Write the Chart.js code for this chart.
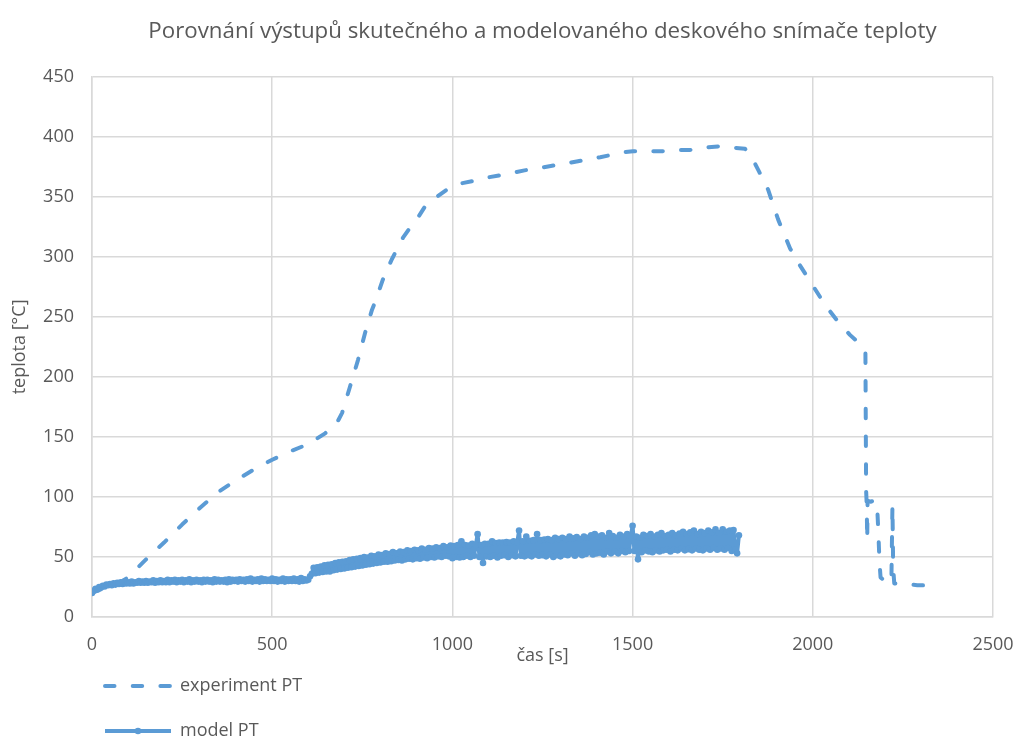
<!DOCTYPE html>
<html><head><meta charset="utf-8">
<script src="https://cdn.jsdelivr.net/npm/chart.js@4.4.0/dist/chart.umd.min.js"></script>
<style>html,body{margin:0;padding:0;background:#fff;overflow:hidden;}#wrap{width:1015px;height:736px;position:relative;}</style>
</head><body><div id="wrap"><canvas id="c" width="1015" height="736"></canvas></div>
<script>
const chartTitle = "Porovnání výstupů skutečného a modelovaného deskového snímače teploty";
const xAxisTitle = "čas [s]";
const yAxisTitle = "teplota [°C]";
const seriesNames = ["experiment PT", "model PT"];
const xTickRange = [0, 2500, 500];
const yTickRange = [0, 450, 50];

const expTime = [0,40,80,100,130,160,200,250,300,350,400,450,500,550,600,647,680,694,716,730,738,758,777,785,807,832,863,882,905,924,957,985,1021,1054,1096,1132,1200,1300,1410,1474,1501,1548,1582,1623,1659,1700,1737,1776,1812,1834,1851,1876,1904,1937,1964,1998,2034,2070,2103,2125,2139,2146,2147,2148,2149,2150,2151,2152,2160,2170,2178,2182,2185,2188,2200,2218,2221,2223,2226,2250,2290,2348];
const expTemp = [20,25,29,33,42,51,62,77,91,104,114,123,131,138,144,153,162,170,192,206,214,237,256,262,281,298,316,324,333,342,350,356,361,363,366,368,372,377,383,387,388,388,388,389,389,391,392,391,390,381,371,356,331,307,293,277,260,246,235,229,222,221,160,105,98,85,64,97,96,97,96,70,46,33,30,29,93,41,28,27.5,26.5,26];

const modelStart = 0;
const modelStep = 5;
const modelTemp = [
 20,22,23.5,23,25,24.5,26,25.5,27,26.5,
 27.5,26.5,28,27,28.5,27.5,29,27.5,29.5,28,
 29,28,29.5,28,29,28.5,30,28.5,29.5,28.5,
 30,28.5,29.5,29,30.5,28.5,30,29,30.5,29,
 30,29,31,29,30.5,29.5,31,29,30.5,29.5,
 31,29,30.5,29.5,31.5,29,30.5,29.5,31,29.5,
 30.5,29,31,29.5,31,29.5,30.5,29,31.5,29.5,
 31,29.5,30.5,29.5,31,29,31.5,29.5,31,30,
 31,29.5,31.5,30,31,29.5,31.5,30,32,29.5,
 31,30,31.5,29.5,32,30,31.5,30,31,30,
 32,30,31.5,29.5,31,30,32,29.5,31.5,30,
 31.5,30,32,30,31.5,29.5,32.5,30,31.5,30.5,
 31,34,36,41,36.5,41.5,37,42,37.5,43,
 38,43.5,38,44,39,45,39.5,45.5,40,46,
 40.5,46.5,41,47.5,41.5,48,42,48.5,42.5,49,
 43,50,43.5,49.5,44,51,44.5,50.5,45,52,
 45.5,51.5,46,53,46,52.5,46.5,54,47,53,
 47.5,54.5,47,54,48,55.5,48.5,55,48,56,
 49,55.5,48.5,57,49.5,56,49,57.5,50,57,
 49.5,58,50.5,57.5,50,59,51,58,50.5,59.5,
 49,59,50,60,49.5,63,50,60,51,59.5,
 50,61,51,60,69,50,60,45,61,50.5,
 61,50,63,51,61.5,49.5,62,51,62,51.5,
 62.5,50,62,51.5,63,50.5,62,72,51,63,
 50.5,67,51.5,63.5,50.5,64,52,69,51,64,
 51.5,64.5,50.5,65,52,64,50,66,51.5,65,
 50.5,66,52,65,51.5,67,53,65.5,51,66.5,
 53,65,51.5,67,52.5,66,54,68,52,69,
 53,67,53.5,68,52,66,54.5,70,53,67.5,
 54.5,66,53,68.5,55,67,54,69,55,67.5,
 76,55,67,48,66,54,68.5,55.5,67.5,54.5,
 69,54,67,55.5,68.5,54.5,70,55.5,67.5,56,
 68.5,54.5,70,56,68,55.5,69.5,57,71,55.5,
 69,56.5,70.5,55.5,72,57,69,56,71,55.5,
 70,57,72,56,70.5,57.5,73,56,70,57,
 73,56,71,57.5,72,55,72.5,56,53,68
];

const BLUE = '#5B9BD5';
const TEXT = '#595959';
const GRID = '#D9D9D9';
const FONT = "'Open Sans', sans-serif";

const expPoints = expTime.map((t, i) => ({x: t, y: expTemp[i]}));
const modelPoints = modelTemp.map((v, i) => ({x: modelStart + i * modelStep, y: v}));

const stackedLegend = {
  id: 'stackedLegend',
  afterDraw(chart) {
    const ctx = chart.ctx;
    const rows = [686, 731];
    chart.data.datasets.forEach((ds, i) => {
      const y = rows[i];
      ctx.save();
      ctx.strokeStyle = ds.borderColor;
      ctx.lineWidth = ds.borderWidth;
      ctx.lineCap = ds.borderCapStyle || 'butt';
      ctx.setLineDash(ds.borderDash || []);
      ctx.beginPath();
      ctx.moveTo(105, y);
      ctx.lineTo(171, y);
      ctx.stroke();
      ctx.setLineDash([]);
      if (ds.pointRadius > 0) {
        ctx.fillStyle = ds.pointBackgroundColor;
        ctx.beginPath();
        ctx.arc(138, y, ds.pointRadius, 0, Math.PI * 2);
        ctx.fill();
      }
      ctx.fillStyle = TEXT;
      ctx.font = "18px " + FONT;
      ctx.textBaseline = 'middle';
      ctx.textAlign = 'left';
      ctx.fillText(ds.label, 180, y);
      ctx.restore();
    });
  }
};

new Chart(document.getElementById('c'), {
  type: 'scatter',
  data: {
    datasets: [
      {
        label: seriesNames[0],
        data: expPoints,
        showLine: true,
        borderColor: BLUE,
        backgroundColor: BLUE,
        borderWidth: 4,
        borderDash: [9.5, 18.2],
        borderCapStyle: 'round',
        borderJoinStyle: 'round',
        pointRadius: 0,
        tension: 0
      },
      {
        label: seriesNames[1],
        data: modelPoints,
        showLine: true,
        borderColor: BLUE,
        backgroundColor: BLUE,
        pointBackgroundColor: BLUE,
        pointBorderColor: BLUE,
        borderWidth: 4,
        borderJoinStyle: 'round',
        pointRadius: 3.3,
        pointBorderWidth: 0,
        tension: 0
      }
    ]
  },
  options: {
    responsive: false,
    animation: false,
    devicePixelRatio: 1,
    layout: {padding: {left: 0, right: 22, top: 0, bottom: 69}},
    plugins: {
      legend: {display: false},
      tooltip: {enabled: false},
      title: {
        display: true,
        fullSize: false,
        text: chartTitle,
        color: TEXT,
        font: {family: FONT, size: 22.3, weight: 'normal', lineHeight: 1.2},
        padding: {top: 18, bottom: 32}
      }
    },
    scales: {
      x: {
        type: 'linear',
        min: xTickRange[0], max: xTickRange[1],
        ticks: {stepSize: xTickRange[2], color: TEXT, font: {family: FONT, size: 18}, padding: 1, maxRotation: 0,
                callback: v => String(v)},
        grid: {color: GRID, lineWidth: 1.5, drawTicks: true, tickLength: 16, tickColor: 'rgba(0,0,0,0)'},
        border: {color: GRID, width: 1.5},
        title: {display: true, text: xAxisTitle, color: TEXT, font: {family: FONT, size: 18, lineHeight: 1.2}, padding: {top: 0, bottom: 0}},
        afterFit: s => { s.height = 50; }
      },
      y: {
        min: yTickRange[0], max: yTickRange[1],
        ticks: {stepSize: yTickRange[2], color: TEXT, font: {family: FONT, size: 18}, padding: 18,
                callback: v => String(v)},
        grid: {color: GRID, lineWidth: 1.5, drawTicks: false},
        border: {color: GRID, width: 1.5},
        title: {display: true, text: yAxisTitle, color: TEXT, font: {family: FONT, size: 18, lineHeight: 1.2}, padding: {top: 9, bottom: 0}},
        afterFit: s => { s.width = 92; }
      }
    }
  },
  plugins: [stackedLegend]
});
</script></body></html>
